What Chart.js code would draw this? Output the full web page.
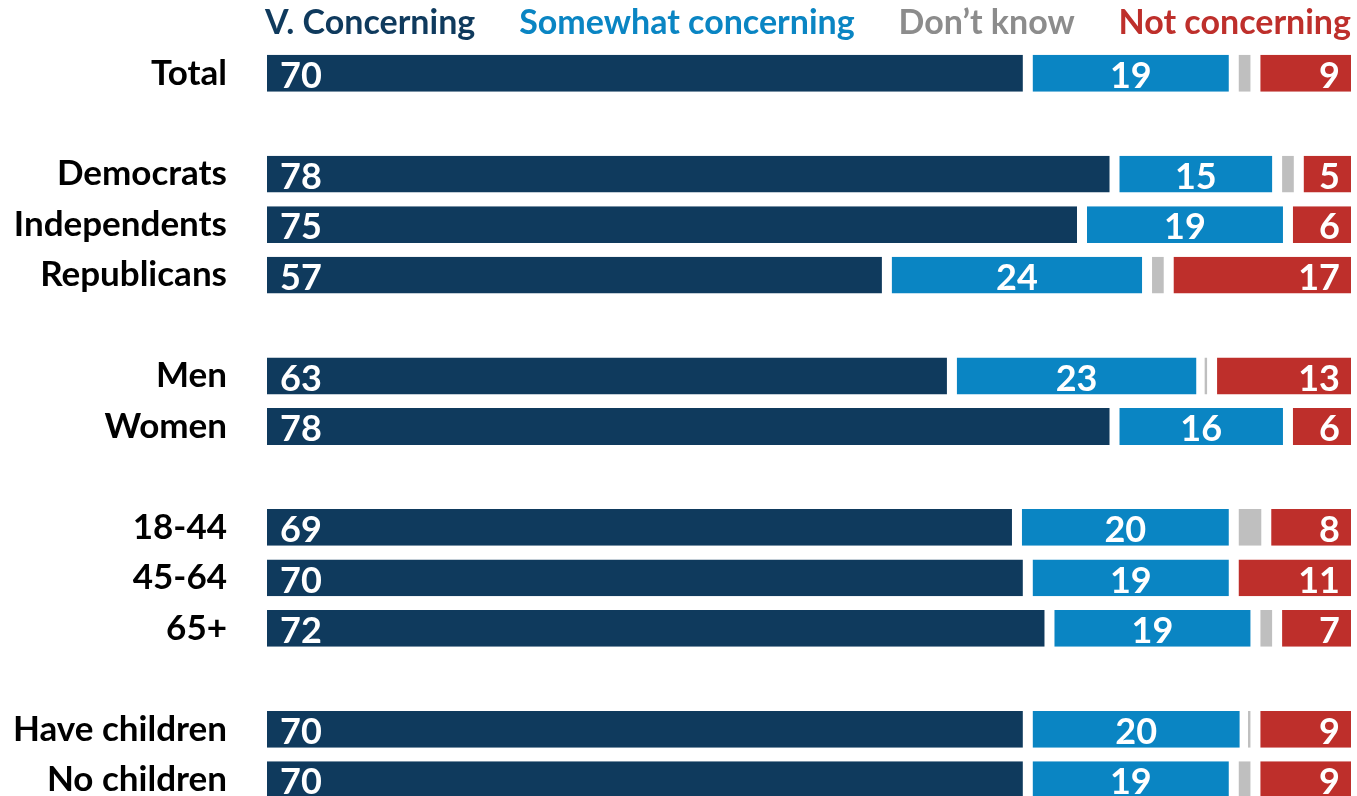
<!DOCTYPE html>
<html>
<head>
<meta charset="utf-8">
<title>Concern by group</title>
<script src="https://cdn.jsdelivr.net/npm/chart.js@4.4.1/dist/chart.umd.min.js"></script>
<style>
  html, body { margin: 0; padding: 0; background: #ffffff; overflow: hidden; }
  #wrap { width: 1357px; height: 805px; }
</style>
</head>
<body>
<div id="wrap"><canvas id="myChart" width="1357" height="805"></canvas></div>
<script>
// JavaScript Document

// rows (blank strings are the spacer rows between groups)
var categories = ['Total', '', 'Democrats', 'Independents', 'Republicans', '', 'Men', 'Women', '', '18-44', '45-64', '65+', '', 'Have children', 'No children'];

var seriesNames = ['V. Concerning', 'Somewhat concerning', 'Don\u2019t know', 'Not concerning'];

var veryConcerning = [70, null, 78, 75, 57, null, 63, 78, null, 69, 70, 72, null, 70, 70];
var somewhatConcerning = [19, null, 15, 19, 24, null, 23, 16, null, 20, 19, 19, null, 20, 19];
var dontKnow = [2, null, 2, 0, 2, null, 1, 0, null, 3, 0, 2, null, 1, 2];
var notConcerning = [9, null, 5, 6, 17, null, 13, 6, null, 8, 11, 7, null, 9, 9];

var barColors = ['#0f3a5d', '#0a85c3', '#bfbfbf', '#be2f2b'];
var legendColors = ['#0f3a5d', '#0a85c3', '#8c8c8c', '#be2f2b'];

var fontFamily = 'Lato, "Open Sans", sans-serif';

// legend drawn as coloured words spread across the bar area
var textLegend = {
    id: 'textLegend',
    afterDraw: function (chart) {
        var ctx = chart.ctx;
        var area = chart.chartArea;
        ctx.save();
        ctx.font = 'bold 34px ' + fontFamily;
        ctx.textBaseline = 'middle';
        var widths = seriesNames.map(function (t) { return ctx.measureText(t).width; });
        var total = widths.reduce(function (a, b) { return a + b; }, 0);
        var left = area.left - 2;
        var gap = (area.right - left - total) / (seriesNames.length - 1);
        var x = left;
        for (var i = 0; i < seriesNames.length; i++) {
            ctx.fillStyle = legendColors[i];
            ctx.textAlign = 'left';
            ctx.fillText(seriesNames[i], x, 23);
            x += widths[i] + gap;
        }
        ctx.restore();
    }
};

// white numbers inside the bars (none on the don't know segment)
var barLabels = {
    id: 'barLabels',
    afterDatasetsDraw: function (chart) {
        var ctx = chart.ctx;
        ctx.save();
        ctx.font = 'bold 36px ' + fontFamily;
        ctx.fillStyle = '#ffffff';
        ctx.textBaseline = 'middle';
        chart.data.datasets.forEach(function (ds, di) {
            if (di === 2) return;
            var meta = chart.getDatasetMeta(di);
            meta.data.forEach(function (bar, i) {
                var v = ds.data[i];
                if (v === null || v === 0) return;
                var y = bar.y + 3;
                if (di === 0) {
                    ctx.textAlign = 'left';
                    ctx.fillText(v, bar.base + 13, y);
                } else if (di === 1) {
                    ctx.textAlign = 'center';
                    ctx.fillText(v, (bar.base + 7 + bar.x - 3) / 2, y);
                } else {
                    ctx.textAlign = 'right';
                    ctx.fillText(v, bar.x - 11, y);
                }
            });
        });
        ctx.restore();
    }
};

function makeSet(i, values, border) {
    return {
        label: seriesNames[i],
        data: values,
        backgroundColor: barColors[i],
        borderColor: '#ffffff',
        borderWidth: border,
        borderSkipped: false,
        categoryPercentage: 1,
        barPercentage: 0.73
    };
}

var ctx = document.getElementById('myChart').getContext('2d');
var chart = new Chart(ctx, {
    type: 'bar',
    data: {
        labels: categories,
        datasets: [
            makeSet(0, veryConcerning, { left: 0, right: 3, top: 0, bottom: 0 }),
            makeSet(1, somewhatConcerning, { left: 7, right: 3, top: 0, bottom: 0 }),
            makeSet(2, dontKnow, { left: 7, right: 3, top: 0, bottom: 0 }),
            makeSet(3, notConcerning, { left: 7, right: 0, top: 0, bottom: 0 })
        ]
    },
    options: {
        indexAxis: 'y',
        responsive: false,
        animation: false,
        layout: { padding: { top: 48, right: 6, bottom: 0, left: 0 } },
        plugins: {
            legend: { display: false },
            tooltip: { enabled: false }
        },
        scales: {
            x: {
                display: false,
                stacked: true,
                min: 0,
                max: 100
            },
            y: {
                stacked: true,
                grid: { display: false, drawTicks: false },
                border: { display: false },
                ticks: {
                    color: '#000000',
                    padding: 40,
                    font: { family: fontFamily, size: 35, weight: 'bold' }
                },
                afterFit: function (scale) {
                    // fixed label column, and no extra top/bottom room for the labels
                    scale.width = 267;
                    scale.paddingTop = 0;
                    scale.paddingBottom = 0;
                }
            }
        }
    },
    plugins: [textLegend, barLabels]
});
</script>
</body>
</html>
